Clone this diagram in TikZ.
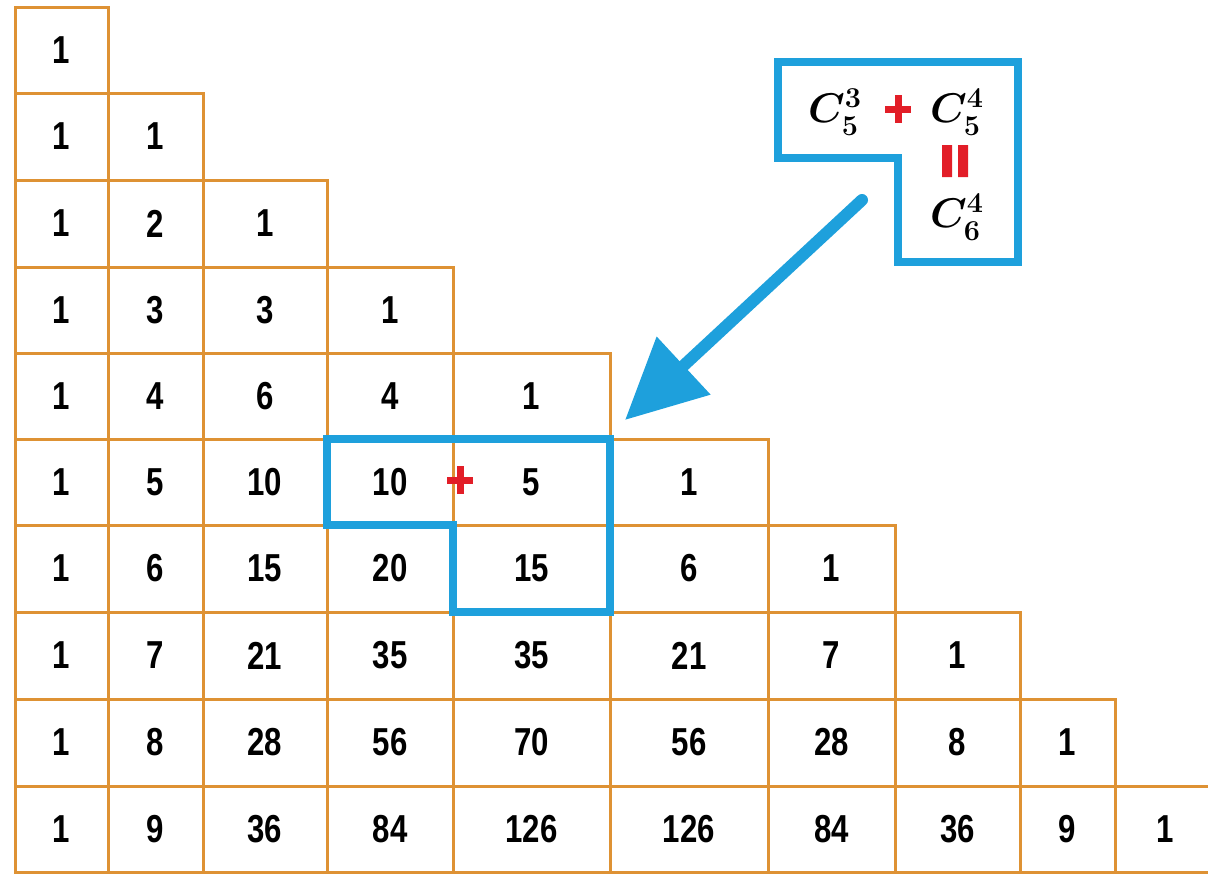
\documentclass[tikz,border=0pt]{standalone}
\usepackage{fontspec}
\setmainfont{Liberation Sans}[FakeStretch=0.8]
\usepackage{xcolor}
\usepackage{amsmath}
\usepackage{tikz}
\usetikzlibrary{arrows.meta,positioning,calc}

\definecolor{gridorange}{RGB}{222,146,52}
\definecolor{hlblue}{RGB}{30,160,220}
\definecolor{plusred}{RGB}{226,30,40}

\begin{document}
\begin{tikzpicture}[x=0.5pt,y=-0.5pt,
    cell/.style={draw=gridorange,line width=1.5pt,inner sep=0pt,outer sep=0pt,
      font=\fontsize{19.5}{20}\selectfont\bfseries},
    hlbox/.style={draw=hlblue,line width=4pt,line join=miter},
    binom/.style={inner sep=0pt,font=\fontsize{20}{22}\selectfont},
    redplus/.pic={\draw[plusred,line width=3.5pt] (-13,0)--(13,0) (0,-14)--(0,14);}]
    \useasboundingbox (0,0) rectangle (1208,873);
    \def\colx{{15,108,203,327,453,610,768,895,1020,1115,1215}}
    \def\rowy{{7,93,180,267,353,439,525,612,699,786,872}}
    % the triangle, row by row
    \foreach \row/\vals in {0/{1},1/{1,1},2/{1,2,1},3/{1,3,3,1},4/{1,4,6,4,1},
      5/{1,5,10,10,5,1},6/{1,6,15,20,15,6,1},7/{1,7,21,35,35,21,7,1},
      8/{1,8,28,56,70,56,28,8,1},9/{1,9,36,84,126,126,84,36,9,1}}{
      \foreach \v [count=\col from 0] in \vals {
        \pgfmathsetmacro\xa{\colx[\col]}
        \pgfmathsetmacro\xb{\colx[\col+1]}
        \pgfmathsetmacro\ya{\rowy[\row]}
        \pgfmathsetmacro\yb{\rowy[\row+1]}
        \pgfmathsetmacro\w{(\xb-\xa)/2}
        \pgfmathsetmacro\h{(\yb-\ya)/2}
        \node[cell,minimum width=\w pt,minimum height=\h pt] (n-\row-\col)
          at ({(\xa+\xb)/2},{(\ya+\yb)/2}) {\v};
      }
    }
    % highlighted cells
    \draw[hlbox] (n-5-3.north west) -- (n-5-4.north east) -- (n-6-4.south east)
      -- (n-6-4.south west) -- (n-5-4.south west) -- (n-5-3.south west) -- cycle;
    \pic at ($(n-5-3.east)+(7,-2)$) {redplus};
    % formula box
    \node[binom] (c53) at (835,112) {$\boldsymbol{C_5^3}$};
    \node[binom] (c54) at (957,112) {$\boldsymbol{C_5^4}$};
    \node[binom] (c64) at (957,217) {$\boldsymbol{C_6^4}$};
    \pic at (898,109) {redplus};
    \fill[plusred] (942,145) rectangle (952,177) (958,145) rectangle (968,177);
    \draw[hlbox] (778,62) -- (1018,62) -- (1018,262) -- (898,262) -- (898,158)
      -- (778,158) -- cycle;
    \coordinate (tail) at (862,200);
    \draw[hlblue,line width=6pt,line cap=round,-{Triangle[length=40pt,width=38pt]}]
      (tail) -- ($(n-5-4.north east)+(15,-19)$);
\end{tikzpicture}
\end{document}
